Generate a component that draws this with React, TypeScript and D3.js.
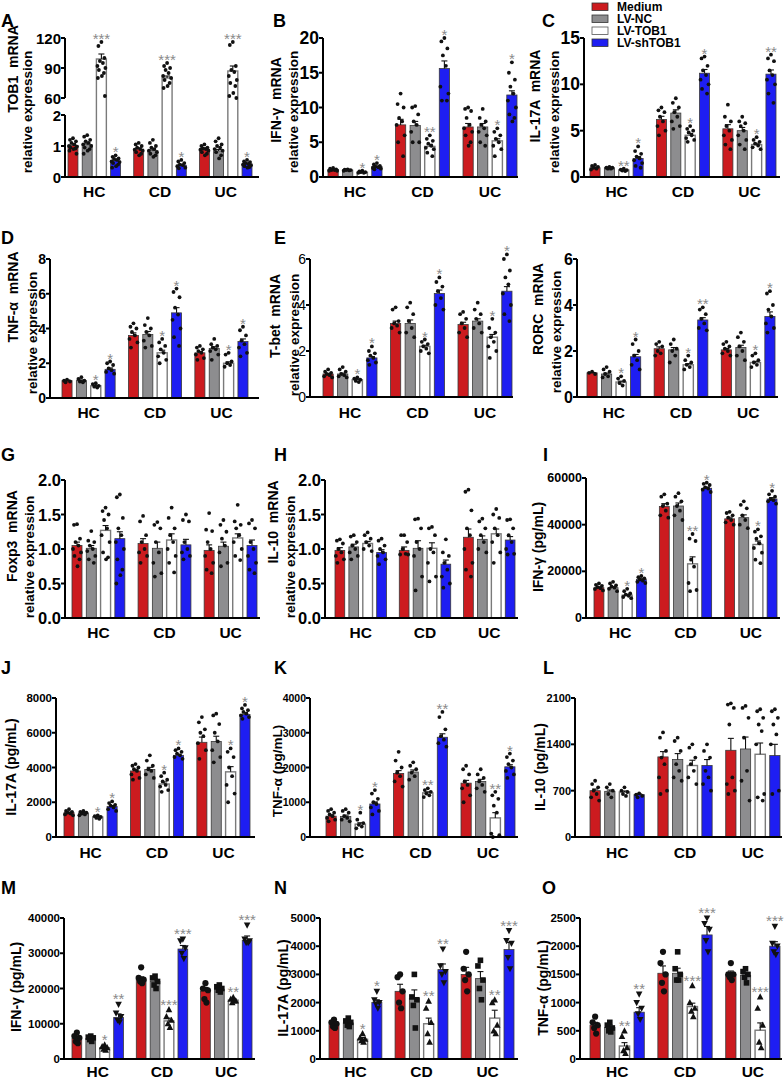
import React from 'react';
import * as d3 from 'd3';

const groups = ['HC', 'CD', 'UC'];
const series = ['Medium', 'LV-NC', 'LV-TOB1', 'LV-shTOB1'];
const colors = ['#cc1b1f', '#8d8d8f', '#ffffff', '#1e1ef2'];

// ---------- A: TOB1 mRNA ----------
const A_mean = [[1.02, 1.04, 99, 0.52], [0.9, 0.85, 80, 0.38], [0.9, 0.84, 87, 0.42]];
const A_sem = [[0.05, 0.05, 5, 0.05], [0.04, 0.05, 2, 0.03], [0.04, 0.05, 5, 0.03]];
const A_sig = [['', '', '***', '*'], ['', '', '***', '*'], ['', '', '***', '*']];
const A_pts = [
  [[1.25, 1.2, 1.15, 1.1, 1.05, 1.0, 0.98, 0.95, 0.92, 0.9, 0.85, 0.75], [1.35, 1.3, 1.2, 1.15, 1.1, 1.05, 1.0, 0.95, 0.9, 0.85, 0.75], [116, 112, 100, 97, 95, 92, 90, 88, 85, 82, 80, 62], [0.7, 0.65, 0.6, 0.58, 0.55, 0.5, 0.48, 0.45, 0.4, 0.35, 0.3]],
  [[1.1, 1.05, 1.0, 0.95, 0.9, 0.88, 0.85, 0.8, 0.75, 0.7], [1.2, 1.1, 1.0, 0.95, 0.9, 0.85, 0.8, 0.75, 0.7, 0.65], [95, 92, 90, 88, 85, 82, 80, 78, 75, 72, 70], [0.55, 0.5, 0.45, 0.4, 0.38, 0.35, 0.3, 0.28]],
  [[1.05, 1.0, 0.95, 0.92, 0.9, 0.88, 0.85, 0.8, 0.75, 0.7], [1.25, 1.15, 1.05, 1.0, 0.95, 0.9, 0.85, 0.8, 0.7, 0.6], [116, 113, 92, 88, 86, 82, 78, 75, 72, 65, 62, 60], [0.55, 0.5, 0.48, 0.45, 0.42, 0.4, 0.38, 0.35, 0.32, 0.3]],
];
const A_ticksLo = [0, 1, 2];
const A_ticksHi = [60, 90, 120];

// ---------- B: IFN-γ mRNA ----------
const B_mean = [[1.1, 1.0, 0.7, 1.5], [7.5, 7.4, 4.4, 15.6], [7.2, 7.2, 5.2, 11.8]];
const B_sem = [[0.05, 0.04, 0.04, 0.08], [0.8, 0.6, 0.3, 1.1], [0.5, 0.5, 0.3, 0.6]];
const B_sig = [['', '', '*', '*'], ['', '', '**', '*'], ['', '', '*', '*']];
const B_pts = [
  [[1.3, 1.2, 1.1, 1.0, 1.0, 0.9, 0.9], [1.1, 1.05, 1.0, 1.0, 0.95, 0.9], [0.9, 0.8, 0.7, 0.7, 0.6, 0.6], [2.0, 1.8, 1.6, 1.5, 1.4, 1.3, 1.2, 1.1]],
  [[12, 10.5, 10, 8.5, 8, 7.5, 6, 5, 3], [10.2, 10, 9, 8, 7.5, 6.5, 5, 5], [6, 5.5, 5.2, 4.8, 4.5, 4.2, 4, 3.5, 3], [20, 19.5, 18.5, 17.5, 16, 13, 12, 11, 11]],
  [[10, 9.8, 9.5, 8.5, 7.5, 7, 6.5, 6, 5, 4.5], [9.8, 8.5, 8, 7.5, 7, 6.5, 6, 5, 4.5], [7, 6.5, 6, 5.5, 5, 4.5, 4, 3], [16.5, 15, 14, 13, 12, 11, 10, 9, 8.5, 8]],
];
const B_ticks = [0, 5, 10, 15, 20];

// ---------- C: IL-17A mRNA ----------
const C_mean = [[1.0, 1.0, 0.75, 2.0], [6.2, 6.9, 4.5, 11.2], [5.2, 5.0, 3.5, 11.1]];
const C_sem = [[0.05, 0.04, 0.03, 0.2], [0.35, 0.35, 0.2, 0.4], [0.45, 0.35, 0.15, 0.45]];
const C_sig = [['', '', '**', '*'], ['', '', '*', '*'], ['', '', '*', '**']];
const C_pts = [
  [[1.3, 1.2, 1.1, 1.0, 0.9, 0.8], [1.1, 1.0, 1.0, 0.9, 0.9], [0.9, 0.8, 0.75, 0.7, 0.65], [3.3, 2.8, 2.5, 2.2, 2.0, 1.8, 1.5, 1.2, 1.0]],
  [[7.5, 7.2, 7, 6.5, 6, 5.5, 5, 4.5], [8.5, 8, 7.5, 7, 6.5, 6, 5.5, 5.2], [5.5, 5.2, 5, 4.8, 4.5, 4.2, 4, 3.8], [13, 12.8, 12, 11.5, 11, 10.5, 10, 9.5, 9]],
  [[7.8, 6.5, 6, 5.5, 5, 4.5, 4, 3.5, 3], [6.5, 6, 5.8, 5.5, 5, 4.5, 4, 3.5, 3], [4.3, 4, 3.8, 3.6, 3.4, 3.2, 3], [13.2, 12.8, 12.5, 11.5, 11, 10.5, 10, 9, 8]],
];
const C_ticks = [0, 5, 10, 15];

// ---------- D: TNF-α mRNA ----------
const D_mean = [[1.0, 1.0, 0.7, 1.65], [3.6, 3.65, 2.6, 4.9], [2.6, 2.85, 2.0, 3.25]];
const D_sem = [[0.03, 0.04, 0.03, 0.08], [0.15, 0.18, 0.15, 0.3], [0.08, 0.1, 0.08, 0.15]];
const D_sig = [['', '', '*', '*'], ['', '', '*', '*'], ['', '', '*', '*']];
const D_pts = [
  [[1.05, 1.0, 0.95, 0.9], [1.2, 1.1, 1.0, 0.95, 0.9], [0.85, 0.8, 0.7, 0.65, 0.6], [2.1, 2.0, 1.9, 1.7, 1.6, 1.5, 1.4]],
  [[4.3, 4.1, 4.0, 3.8, 3.6, 3.4, 3.2, 2.9], [4.6, 4.2, 4.0, 3.8, 3.6, 3.3, 3.0, 2.9], [3.4, 3.2, 3.0, 2.8, 2.6, 2.4, 2.2, 2.0], [6.3, 6.1, 5.8, 5.2, 4.8, 4.5, 4.0, 3.5, 3.0]],
  [[3.0, 2.9, 2.8, 2.7, 2.6, 2.5, 2.3, 2.2], [3.4, 3.1, 3.0, 2.9, 2.8, 2.7, 2.5, 2.2], [2.6, 2.5, 2.1, 2.0, 1.9, 1.8], [4.1, 3.9, 3.6, 3.3, 3.1, 2.9, 2.6, 2.4]],
];
const D_ticks = [0, 2, 4, 6, 8];

// ---------- E: T-bet mRNA ----------
const E_mean = [[1.0, 1.0, 0.75, 1.7], [3.2, 3.2, 2.2, 4.5], [3.15, 3.3, 2.6, 4.6]];
const E_sem = [[0.03, 0.04, 0.02, 0.06], [0.1, 0.15, 0.05, 0.15], [0.1, 0.1, 0.12, 0.2]];
const E_sig = [['', '', '*', '*'], ['', '', '*', '*'], ['', '', '*', '*']];
const E_pts = [
  [[1.2, 1.1, 1.05, 1.0, 0.95, 0.9, 0.85], [1.3, 1.2, 1.1, 1.0, 0.95, 0.9, 0.85], [0.85, 0.8, 0.75, 0.7, 0.65], [2.2, 2.0, 1.9, 1.8, 1.7, 1.6, 1.5, 1.4]],
  [[3.9, 3.8, 3.3, 3.2, 3.1, 3.0, 2.8], [4.1, 3.9, 3.6, 3.3, 3.0, 2.8, 2.6], [2.5, 2.4, 2.3, 2.2, 2.1, 2.0, 1.9], [5.2, 5.0, 4.8, 4.6, 4.3, 4.0, 3.8]],
  [[3.7, 3.6, 3.4, 3.2, 3.0, 2.8, 2.6], [4.1, 3.8, 3.6, 3.4, 3.2, 3.0, 2.8], [3.4, 3.0, 2.8, 2.6, 2.4, 2.2, 2.0, 1.7], [6.2, 6.0, 5.5, 5.2, 4.9, 4.5, 4.0, 3.6, 3.3]],
];
const E_ticks = [0, 2, 4, 6];

// ---------- F: RORC mRNA ----------
const F_mean = [[1.05, 1.0, 0.65, 1.75], [2.1, 2.05, 1.4, 3.35], [2.05, 2.15, 1.5, 3.5]];
const F_sem = [[0.02, 0.04, 0.04, 0.1], [0.08, 0.1, 0.05, 0.1], [0.06, 0.1, 0.05, 0.2]];
const F_sig = [['', '', '*', '*'], ['', '', '*', '**'], ['', '', '*', '*']];
const F_pts = [
  [[1.1, 1.05, 1.0], [1.3, 1.2, 1.1, 1.0, 0.9, 0.85], [0.9, 0.8, 0.7, 0.6, 0.5], [2.5, 2.3, 2.0, 1.8, 1.6, 1.4, 1.2]],
  [[2.4, 2.3, 2.2, 2.0, 1.9, 1.8], [2.5, 2.3, 2.1, 2.0, 1.8, 1.5], [1.8, 1.6, 1.5, 1.4, 1.3, 1.2], [3.9, 3.8, 3.6, 3.4, 3.2, 3.0, 2.9]],
  [[2.4, 2.3, 2.2, 2.1, 2.0, 1.9, 1.8], [2.8, 2.6, 2.4, 2.2, 2.0, 1.8, 1.6], [1.9, 1.8, 1.6, 1.5, 1.4, 1.3], [4.6, 4.5, 4.0, 3.8, 3.5, 3.2, 3.0, 2.8]],
];
const F_ticks = [0, 2, 4, 6];

// ---------- G: Foxp3 mRNA ----------
const G_mean = [[1.05, 1.01, 1.27, 1.15], [1.08, 1.01, 1.13, 1.06], [0.98, 1.04, 1.16, 1.05]];
const G_sem = [[0.05, 0.04, 0.07, 0.1], [0.07, 0.09, 0.09, 0.08], [0.08, 0.06, 0.06, 0.08]];
const G_sig = [['', '', '', ''], ['', '', '', ''], ['', '', '', '']];
const G_pts = [
  [[1.36, 1.35, 1.15, 1.1, 1.05, 1.0, 0.95, 0.9, 0.85, 0.75], [1.26, 1.12, 1.1, 1.05, 1.0, 0.97, 0.9, 0.85, 0.8], [1.6, 1.55, 1.5, 1.42, 1.3, 1.2, 1.1, 0.95, 0.88, 0.85], [1.79, 1.75, 1.45, 1.3, 1.2, 1.1, 1.0, 0.85, 0.7, 0.62, 0.5]],
  [[1.48, 1.4, 1.2, 1.1, 1.0, 0.95, 0.9, 0.8], [1.39, 1.35, 1.3, 1.1, 0.95, 0.8, 0.65, 0.6], [1.6, 1.45, 1.3, 1.2, 1.1, 1.0, 0.9, 0.8, 0.66], [1.5, 1.42, 1.4, 1.1, 1.0, 0.95, 0.9, 0.85]],
  [[1.52, 1.28, 1.26, 1.1, 1.0, 0.9, 0.8, 0.7, 0.65], [1.42, 1.35, 1.25, 1.15, 1.05, 0.95, 0.8, 0.75], [1.64, 1.4, 1.35, 1.3, 1.2, 1.1, 1.0, 0.9, 0.84], [1.42, 1.37, 1.3, 1.1, 1.0, 0.9, 0.8, 0.7, 0.65]],
];
const G_ticks = [0, 0.5, 1.0, 1.5, 2.0];

// ---------- H: IL-10 mRNA ----------
const H_mean = [[0.98, 1.03, 1.08, 0.95], [0.98, 1.01, 1.01, 0.78], [1.17, 1.14, 1.22, 1.13]];
const H_sem = [[0.04, 0.04, 0.03, 0.04], [0.05, 0.11, 0.08, 0.06], [0.12, 0.05, 0.07, 0.05]];
const H_sig = [['', '', '', ''], ['', '', '', ''], ['', '', '', '']];
const H_pts = [
  [[1.14, 1.12, 1.08, 1.0, 0.95, 0.9, 0.85, 0.8], [1.2, 1.18, 1.1, 1.05, 1.0, 0.95, 0.9, 0.85], [1.24, 1.2, 1.15, 1.1, 1.05, 1.0, 0.97], [1.15, 1.12, 1.05, 1.0, 0.95, 0.9, 0.85, 0.78]],
  [[1.2, 1.2, 1.1, 1.0, 0.93, 0.92, 0.92], [1.44, 1.43, 1.3, 1.1, 1.0, 0.9, 0.6, 0.4], [1.32, 1.3, 1.2, 1.0, 0.95, 0.8, 0.6, 0.53], [1.14, 0.95, 0.9, 0.8, 0.7, 0.6, 0.5, 0.44]],
  [[1.86, 1.83, 1.56, 1.3, 1.2, 1.0, 0.8, 0.7, 0.6], [1.44, 1.4, 1.3, 1.2, 1.1, 1.0, 0.95], [1.58, 1.5, 1.45, 1.3, 1.2, 1.1, 0.95, 0.8], [1.43, 1.42, 1.3, 1.2, 1.1, 1.0, 0.93, 0.92]],
];
const H_ticks = [0, 0.5, 1.0, 1.5, 2.0];

// ---------- I: IFN-γ (pg/mL) ----------
const I_mean = [[13000, 13000, 9800, 16500], [47800, 48000, 23200, 55600], [42500, 43000, 31500, 51000]];
const I_sem = [[400, 400, 400, 300], [1200, 1300, 3000, 500], [700, 1200, 1500, 600]];
const I_sig = [['', '', '*', '*'], ['', '', '**', '*'], ['', '', '*', '*']];
const I_pts = [
  [[14800, 14200, 13800, 13200, 12800, 12400, 11800], [15500, 14800, 14000, 13500, 13000, 12500, 11500], [12500, 11500, 10500, 10000, 9500, 9000, 8500], [18000, 17500, 17000, 16500, 16000, 15500, 15000]],
  [[53000, 52000, 49000, 48000, 46000, 44000, 43000], [53500, 52000, 50000, 48000, 46000, 44000, 42000], [36000, 34000, 33000, 25000, 22000, 15000, 12000, 11500], [58000, 57500, 57000, 56000, 55500, 55000, 54000]],
  [[45500, 45000, 44000, 43000, 42000, 41000, 40000], [50000, 48500, 47000, 44000, 42000, 40000, 38500], [38000, 37000, 35000, 34000, 32000, 30000, 28000, 25000, 23500], [54500, 53000, 52000, 51000, 50500, 50000, 49000]],
];
const I_ticks = [0, 20000, 40000, 60000];

// ---------- J: IL-17A (pg/mL) ----------
const J_mean = [[1400, 1380, 1150, 1750], [3800, 3880, 3050, 4700], [5450, 5500, 3750, 7050]];
const J_sem = [[40, 40, 30, 60], [100, 130, 120, 60], [300, 300, 300, 100]];
const J_sig = [['', '', '*', '*'], ['', '', '*', '*'], ['', '', '*', '*']];
const J_pts = [
  [[1600, 1500, 1450, 1400, 1350, 1300, 1250], [1500, 1450, 1400, 1350, 1300, 1250], [1250, 1200, 1150, 1100, 1050], [2050, 1950, 1850, 1800, 1700, 1600, 1500]],
  [[4200, 4100, 4000, 3900, 3800, 3600, 3400, 3300], [4700, 4400, 4100, 3900, 3800, 3600, 3400], [3700, 3500, 3300, 3200, 3000, 2900, 2700, 2600], [5100, 5000, 4900, 4800, 4700, 4600, 4500]],
  [[6900, 6600, 6200, 6000, 5800, 5400, 5000, 4500], [7100, 7000, 6500, 6000, 5500, 5000, 4600, 4300], [5100, 4900, 4600, 4000, 3500, 3000, 2500, 2000], [7600, 7400, 7300, 7200, 7100, 7000, 6900, 6800]],
];
const J_ticks = [0, 2000, 4000, 6000, 8000];

// ---------- K: TNF-α (pg/mL) ----------
const K_mean = [[600, 590, 370, 950], [1830, 1870, 1270, 2870], [1550, 1600, 550, 2020]];
const K_sem = [[40, 40, 40, 60], [80, 60, 30, 100], [80, 60, 150, 60]];
const K_sig = [['', '', '*', '*'], ['', '', '**', '**'], ['', '', '**', '*']];
const K_pts = [
  [[800, 750, 700, 650, 600, 550, 500, 450], [800, 750, 700, 600, 550, 500, 450], [700, 500, 400, 350, 300, 250], [1350, 1250, 1100, 1000, 950, 850, 750, 650]],
  [[2450, 2200, 2000, 1850, 1750, 1600, 1450], [2150, 2050, 1950, 1850, 1750, 1650], [1400, 1350, 1300, 1250, 1200, 1150], [3600, 3450, 3100, 2900, 2800, 2700, 2600]],
  [[2050, 1950, 1800, 1600, 1500, 1400, 1200, 1000], [1950, 1800, 1700, 1600, 1500, 1400, 1300], [1300, 1200, 1100, 900, 700, 100, 50, 0], [2400, 2300, 2200, 2100, 2000, 1900, 1800, 1700]],
];
const K_ticks = [0, 1000, 2000, 3000, 4000];

// ---------- L: IL-10 (pg/mL) ----------
const L_mean = [[700, 690, 680, 640], [1210, 1170, 1080, 1080], [1310, 1330, 1250, 1230]];
const L_sem = [[25, 20, 15, 10], [80, 90, 80, 90], [180, 180, 170, 170]];
const L_sig = [['', '', '', ''], ['', '', '', ''], ['', '', '', '']];
const L_pts = [
  [[850, 800, 750, 700, 650, 600, 550], [800, 750, 700, 650, 600], [750, 700, 680, 650, 620], [660, 640, 620, 600]],
  [[1580, 1500, 1300, 1200, 1100, 900, 700, 650], [1500, 1450, 1300, 1100, 1000, 900, 850], [1400, 1350, 1200, 1100, 1000, 900, 800], [1400, 1300, 1200, 1000, 900, 800, 700]],
  [[2020, 2000, 1950, 1700, 900, 800, 700, 650], [1980, 1950, 1800, 1500, 1000, 850, 550], [1930, 1900, 1800, 1700, 1600, 1400, 650, 600, 550], [1930, 1900, 1800, 1700, 1550, 1400, 700, 650]],
];
const L_ticks = [0, 700, 1400, 2100];

// ---------- M: IFN-γ (pg/mL) ----------
const M_mean = [[5800, 5800, 3200, 11800], [22500, 22000, 10800, 31200], [19300, 19800, 16700, 33700]];
const M_sem = [[500, 300, 300, 1000], [800, 700, 800, 1000], [1000, 500, 400, 1200]];
const M_sig = [['', '', '*', '**'], ['', '', '***', '***'], ['', '', '**', '***']];
const M_pts = [
  [[7500, 6500, 6000, 5000, 4500], [6500, 6200, 6000, 5500, 5000], [4000, 3500, 3200, 2800, 2500], [15500, 13000, 12000, 11000, 10500]],
  [[26000, 23000, 22500, 22000, 21500], [23500, 23000, 22000, 21000, 20000], [14000, 12000, 11000, 10000, 9000], [34000, 33500, 31500, 30000, 28500]],
  [[21500, 20000, 19500, 17000, 16000], [21000, 20500, 20000, 19500, 19000], [17500, 17000, 16500, 16000, 16500], [38000, 34000, 33500, 33000, 33000]],
];
const M_ticks = [0, 10000, 20000, 30000, 40000];

// ---------- N: IL-17A (pg/mL) ----------
const N_mean = [[1250, 1280, 700, 2000], [2400, 2150, 1250, 3170], [3000, 2850, 1450, 3880]];
const N_sem = [[60, 70, 60, 100], [250, 300, 200, 200], [250, 250, 280, 250]];
const N_sig = [['', '', '*', '*'], ['', '', '**', '**'], ['', '', '**', '***']];
const N_pts = [
  [[1400, 1300, 1250, 1150, 1100], [1450, 1350, 1300, 1200, 1150], [900, 750, 700, 650, 600], [2400, 2100, 2000, 1950, 1800]],
  [[3000, 2900, 2400, 2000, 1800], [3000, 2200, 2100, 1900, 1100], [2050, 1800, 1300, 900, 600], [3900, 3300, 3100, 3000, 2700]],
  [[3800, 3200, 3000, 2800, 2400], [3500, 3300, 2800, 2500, 2100], [2100, 2000, 1200, 1000, 900], [4550, 4200, 4100, 3600, 3200]],
];
const N_ticks = [0, 1000, 2000, 3000, 4000, 5000];

// ---------- O: TNF-α (pg/mL) ----------
const O_mean = [[600, 560, 230, 830], [1520, 1520, 930, 2200], [1500, 1480, 510, 2000]];
const O_sem = [[50, 40, 60, 80], [130, 90, 60, 150], [60, 50, 130, 80]];
const O_sig = [['', '', '**', '**'], ['', '', '***', '***'], ['', '', '***', '***']];
const O_pts = [
  [[750, 650, 600, 550, 450], [650, 600, 550, 500, 480], [500, 400, 200, 150, 100], [1150, 1000, 900, 800, 700]],
  [[1900, 1700, 1500, 1350, 1200], [1900, 1600, 1500, 1400, 1400], [1300, 1000, 900, 850, 750], [2500, 2400, 2300, 2100, 1900]],
  [[1700, 1500, 1500, 1450, 1400], [1600, 1550, 1500, 1450, 1350], [1100, 900, 600, 300, 200], [2350, 2050, 2000, 1900, 1850]],
];
const O_ticks = [0, 500, 1000, 1500, 2000, 2500];

// ---------- layout table ----------
type Title = { t: string; x: number; y: number; s: number };
type Panel = {
  id: string; mean: number[][]; sem: number[][]; sig: string[][]; pts: number[][][]; ticks: number[];
  x0: number; xEnd: number; bL: number; bR: number; yTop: number; yBot: number;
  lx: number; ly: number; catY: number; titles: Title[]; tickSize: number; tickBold: boolean;
  fmt?: string; shapes?: boolean; broken?: boolean;
};

const panels: Panel[] = [
  { id: 'A', mean: A_mean, sem: A_sem, sig: A_sig, pts: A_pts, ticks: A_ticksLo, x0: 65, xEnd: 259, bL: 68, bR: 252, yTop: 38, yBot: 177, lx: 1, ly: 27, catY: 197,
    titles: [{ t: 'TOB1  mRNA', x: 13, y: 69, s: 14 }, { t: 'relative expression', x: 27, y: 112, s: 13.5 }], tickSize: 15, tickBold: true, broken: true },
  { id: 'B', mean: B_mean, sem: B_sem, sig: B_sig, pts: B_pts, ticks: B_ticks, x0: 323, xEnd: 518, bL: 328, bR: 517, yTop: 38, yBot: 177, lx: 273, ly: 27, catY: 197,
    titles: [{ t: 'IFN-γ  mRNA', x: 276, y: 100, s: 14 }, { t: 'relative expression', x: 293, y: 112, s: 13.5 }], tickSize: 17.5, tickBold: true },
  { id: 'C', mean: C_mean, sem: C_sem, sig: C_sig, pts: C_pts, ticks: C_ticks, x0: 584, xEnd: 780, bL: 590, bR: 776, yTop: 38, yBot: 177, lx: 542, ly: 27, catY: 197,
    titles: [{ t: 'IL-17A  mRNA', x: 535, y: 96, s: 14 }, { t: 'relative expression', x: 554, y: 112, s: 13.5 }], tickSize: 17.5, tickBold: true },
  { id: 'D', mean: D_mean, sem: D_sem, sig: D_sig, pts: D_pts, ticks: D_ticks, x0: 50, xEnd: 259, bL: 62, bR: 248, yTop: 259, yBot: 398, lx: 1, ly: 244, catY: 418,
    titles: [{ t: 'TNF-α  mRNA', x: 13, y: 297, s: 14 }, { t: 'relative expression', x: 32, y: 333, s: 13.5 }], tickSize: 14, tickBold: true },
  { id: 'E', mean: E_mean, sem: E_sem, sig: E_sig, pts: E_pts, ticks: E_ticks, x0: 310, xEnd: 513, bL: 323, bR: 512, yTop: 259, yBot: 397, lx: 274, ly: 244, catY: 418,
    titles: [{ t: 'T-bet  mRNA', x: 275, y: 316, s: 14 }, { t: 'relative expression', x: 294, y: 335, s: 13.5 }], tickSize: 14, tickBold: false },
  { id: 'F', mean: F_mean, sem: F_sem, sig: F_sig, pts: F_pts, ticks: F_ticks, x0: 577, xEnd: 778, bL: 587, bR: 775, yTop: 259, yBot: 397, lx: 542, ly: 244, catY: 418,
    titles: [{ t: 'RORC  mRNA', x: 538, y: 309, s: 14 }, { t: 'relative expression', x: 556, y: 332, s: 13.5 }], tickSize: 16, tickBold: true },
  { id: 'G', mean: G_mean, sem: G_sem, sig: G_sig, pts: G_pts, ticks: G_ticks, x0: 65, xEnd: 260, bL: 72, bR: 257, yTop: 480, yBot: 618, lx: 1, ly: 461, catY: 638,
    titles: [{ t: 'Foxp3  mRNA', x: 12, y: 536, s: 14 }, { t: 'relative expression', x: 29, y: 557, s: 13.5 }], tickSize: 16.5, tickBold: true, fmt: '.1f' },
  { id: 'H', mean: H_mean, sem: H_sem, sig: H_sig, pts: H_pts, ticks: H_ticks, x0: 325, xEnd: 518, bL: 335, bR: 515, yTop: 480, yBot: 618, lx: 274, ly: 461, catY: 638,
    titles: [{ t: 'IL-10  mRNA', x: 273, y: 522, s: 14 }, { t: 'relative expression', x: 290, y: 557, s: 13.5 }], tickSize: 16.5, tickBold: true, fmt: '.1f' },
  { id: 'I', mean: I_mean, sem: I_sem, sig: I_sig, pts: I_pts, ticks: I_ticks, x0: 586, xEnd: 780, bL: 594, bR: 777, yTop: 478, yBot: 618, lx: 543, ly: 461, catY: 638,
    titles: [{ t: 'IFN-γ (pg/mL)', x: 538, y: 547, s: 14 }], tickSize: 12.5, tickBold: true },
  { id: 'J', mean: J_mean, sem: J_sem, sig: J_sig, pts: J_pts, ticks: J_ticks, x0: 56, xEnd: 255, bL: 64, bR: 250, yTop: 698, yBot: 837, lx: 1, ly: 674, catY: 858,
    titles: [{ t: 'IL-17A (pg/mL)', x: 11, y: 767, s: 14 }], tickSize: 11.5, tickBold: true },
  { id: 'K', mean: K_mean, sem: K_sem, sig: K_sig, pts: K_pts, ticks: K_ticks, x0: 310, xEnd: 518, bL: 326, bR: 515, yTop: 698, yBot: 837, lx: 274, ly: 674, catY: 858,
    titles: [{ t: 'TNF-α (pg/mL)', x: 277, y: 771, s: 13.5 }], tickSize: 10.5, tickBold: true },
  { id: 'L', mean: L_mean, sem: L_sem, sig: L_sig, pts: L_pts, ticks: L_ticks, x0: 575, xEnd: 782, bL: 590, bR: 780, yTop: 698, yBot: 837, lx: 543, ly: 674, catY: 858,
    titles: [{ t: 'IL-10 (pg/mL)', x: 540, y: 767, s: 14 }], tickSize: 11, tickBold: true },
  { id: 'M', mean: M_mean, sem: M_sem, sig: M_sig, pts: M_pts, ticks: M_ticks, x0: 64, xEnd: 255, bL: 72, bR: 252, yTop: 918, yBot: 1059, lx: 1, ly: 894, catY: 1077,
    titles: [{ t: 'IFN-γ (pg/mL)', x: 16, y: 987, s: 14 }], tickSize: 11.5, tickBold: true, shapes: true },
  { id: 'N', mean: N_mean, sem: N_sem, sig: N_sig, pts: N_pts, ticks: N_ticks, x0: 320, xEnd: 518, bL: 329, bR: 514, yTop: 918, yBot: 1059, lx: 274, ly: 894, catY: 1077,
    titles: [{ t: 'IL-17A (pg/mL)', x: 283, y: 988, s: 14 }], tickSize: 11.5, tickBold: true, shapes: true },
  { id: 'O', mean: O_mean, sem: O_sem, sig: O_sig, pts: O_pts, ticks: O_ticks, x0: 580, xEnd: 782, bL: 590, bR: 780, yTop: 918, yBot: 1059, lx: 542, ly: 894, catY: 1077,
    titles: [{ t: 'TNF-α (pg/mL)', x: 543, y: 988, s: 14 }], tickSize: 11.5, tickBold: true, shapes: true },
];

const FONT = '"Liberation Sans", Arial, Helvetica, sans-serif';
const OFFS = [0, -3, 3, -1.5, 1.5, -4, 4, -2.5, 2.5, 0.5, -3.5, 3.5];

function Marker({ kind, x, y }: { kind: number; x: number; y: number }) {
  if (kind === 0) return <circle cx={x} cy={y} r={3.1} fill="#111" />;
  if (kind === 1) return <rect x={x - 2.8} y={y - 2.8} width={5.6} height={5.6} fill="#111" />;
  if (kind === 2) return <path d={`M${x},${y - 3.6}L${x + 3.3},${y + 2.6}L${x - 3.3},${y + 2.6}Z`} fill="#111" />;
  return <path d={`M${x},${y + 3.6}L${x + 3.3},${y - 2.6}L${x - 3.3},${y - 2.6}Z`} fill="#111" />;
}

function PanelView({ p }: { p: Panel }) {
  const gx = d3.scaleBand<string>().domain(groups).range([p.bL, p.bR]).paddingInner(0.2);
  const sx = d3.scaleBand<string>().domain(series).range([0, gx.bandwidth()]).paddingInner(0.3);
  let y: (v: number) => number;
  let tickSets: { ticks: number[]; y0: number; y1: number }[];
  if (p.broken) {
    const lo = d3.scaleLinear().domain([0, 2]).range([p.yBot, 115]);
    const hi = d3.scaleLinear().domain([60, 120]).range([98, p.yTop]);
    y = (v: number) => (v <= 2 ? lo(v) : hi(Math.max(v, 60)));
    tickSets = [{ ticks: A_ticksLo, y0: 115, y1: p.yBot }, { ticks: A_ticksHi, y0: p.yTop, y1: 98 }];
  } else {
    const maxT = p.ticks[p.ticks.length - 1];
    const s = d3.scaleLinear().domain([0, maxT]).range([p.yBot, p.yTop]);
    y = (v: number) => s(v);
    tickSets = [{ ticks: p.ticks, y0: p.yTop, y1: p.yBot }];
  }
  const fmt = p.fmt ? d3.format(p.fmt) : (v: number) => String(v);
  const bw = sx.bandwidth();
  const elems: JSX.Element[] = [];
  groups.forEach((g, gi) => {
    series.forEach((s, si) => {
      const x = (gx(g) as number) + (sx(s) as number);
      const cx = x + bw / 2;
      const m = p.mean[gi][si];
      const e = p.sem[gi][si];
      const ym = y(m);
      const key = `${p.id}-${gi}-${si}`;
      elems.push(
        <rect key={key + 'b'} x={x} y={ym} width={bw} height={p.yBot - ym} fill={colors[si]}
          stroke={si === 2 ? '#7a7a7a' : '#3a3a3a'} strokeWidth={si === 2 ? 1.4 : 0.8} />
      );
      const ye = y(m + e);
      elems.push(
        <g key={key + 'e'} stroke="#111" strokeWidth={1.1}>
          <line x1={cx} x2={cx} y1={ym} y2={ye} />
          <line x1={cx - 3} x2={cx + 3} y1={ye} y2={ye} />
        </g>
      );
      const pts = p.pts[gi][si];
      pts.forEach((v, k) => {
        const px = cx + (p.shapes ? [0, -2.5, 2.5, -1, 1][k % 5] : OFFS[k % OFFS.length]);
        const py = y(v);
        elems.push(p.shapes
          ? <Marker key={key + 'p' + k} kind={si} x={px} y={py} />
          : <circle key={key + 'p' + k} cx={px} cy={py} r={1.9} fill="#111" />);
      });
      const sg = p.sig[gi][si];
      if (sg) {
        const top = Math.min(ye, ...pts.map((v) => y(v))) - (p.shapes ? 4 : 2);
        elems.push(
          <text key={key + 's'} x={cx} y={top + 4} textAnchor="middle" fontSize={15} fill="#8a8a8a"
            fontFamily={FONT}>{sg}</text>
        );
      }
    });
  });

  return (
    <g>
      <text x={p.lx} y={p.ly} fontSize={18} fontWeight="bold" fontFamily={FONT}>{p.id}</text>
      {p.titles.map((t, i) => (
        <text key={i} transform={`translate(${t.x},${t.y}) rotate(-90)`} textAnchor="middle" dominantBaseline="central"
          fontSize={t.s} fontWeight="bold" fontFamily={FONT} style={{ whiteSpace: 'pre' }}>{t.t}</text>
      ))}
      {elems}
      {tickSets.map((ts, i) => (
        <g key={'ax' + i}>
          <line x1={p.x0} x2={p.x0} y1={ts.y0} y2={ts.y1} stroke="#000" strokeWidth={2} />
          {ts.ticks.map((t) => (
            <g key={t}>
              <line x1={p.x0 - 4} x2={p.x0} y1={y(t)} y2={y(t)} stroke="#000" strokeWidth={2} />
              <text x={p.x0 - 4} y={y(t)} textAnchor="end" dominantBaseline="central" fontSize={p.tickSize}
                fontWeight={p.tickBold ? 'bold' : 'normal'} fontFamily={FONT}>{fmt(t)}</text>
            </g>
          ))}
        </g>
      ))}
      <line x1={p.x0 - 1} x2={p.xEnd} y1={p.yBot} y2={p.yBot} stroke="#000" strokeWidth={2} />
      {groups.map((g) => (
        <text key={g} x={(gx(g) as number) + gx.bandwidth() / 2} y={p.catY} textAnchor="middle" fontSize={15.5}
          fontWeight="bold" fontFamily={FONT}>{g}</text>
      ))}
    </g>
  );
}

function Legend() {
  const ly = d3.scaleBand<string>().domain(series).range([1, 49]);
  return (
    <g>
      {series.map((s, i) => (
        <g key={s}>
          <rect x={592} y={(ly(s) as number) + 2} width={16} height={7.5} fill={colors[i]}
            stroke={i === 2 ? '#555' : '#333'} strokeWidth={0.8} />
          <text x={617} y={(ly(s) as number) + 6} dominantBaseline="central" fontSize={12} fontWeight="bold"
            fontFamily={FONT}>{s}</text>
        </g>
      ))}
    </g>
  );
}

export default function App() {
  return (
    <svg width={784} height={1079} style={{ position: 'absolute', left: 0, top: 0, background: '#fff' }}>
      <rect width={784} height={1079} fill="#fff" />
      {panels.map((p) => <PanelView key={p.id} p={p} />)}
      <Legend />
    </svg>
  );
}
